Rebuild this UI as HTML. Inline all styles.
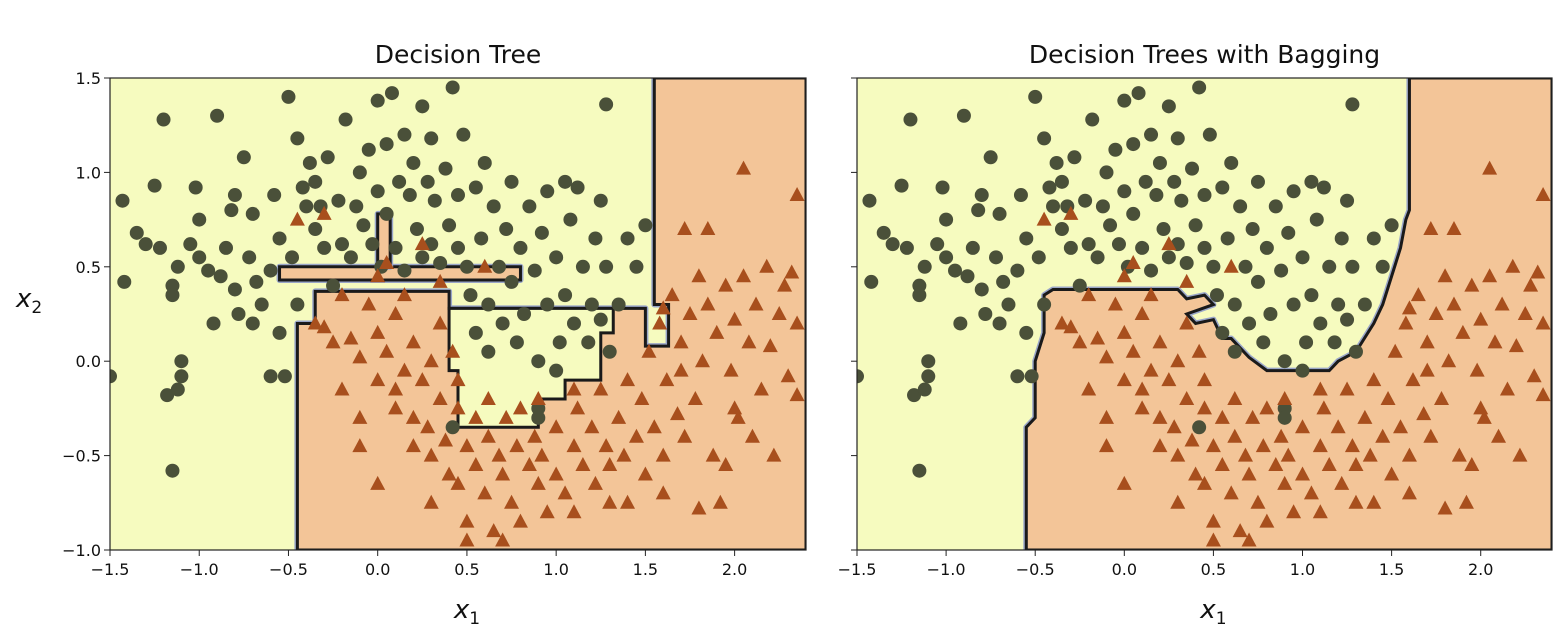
<!DOCTYPE html>
<html><head><meta charset="utf-8"><style>
body{margin:0;background:#fff;width:1566px;height:632px;overflow:hidden}
svg{display:block}
text{font-family:"DejaVu Sans","Liberation Sans",sans-serif;fill:#111}
</style></head><body>
<svg id="chart" width="1566" height="632" xmlns="http://www.w3.org/2000/svg"></svg>
<script>
const circlesX=[-1.5,-1.42,-1.43,-1.35,-1.3,-1.25,-1.22,-1.2,-1.18,-1.15,-1.15,-1.12,-1.1,-1.12,-1.1,-1.15,-1.05,-1.02,-1.0,-1.0,-0.95,-0.92,-0.9,-0.88,-0.85,-0.82,-0.8,-0.8,-0.78,-0.75,-0.72,-0.7,-0.7,-0.68,-0.65,-0.6,-0.58,-0.55,-0.55,-0.52,-0.6,-0.5,-0.48,-0.45,-0.45,-0.42,-0.4,-0.38,-0.35,-0.35,-0.32,-0.3,-0.28,-0.25,-0.22,-0.2,-0.18,-0.15,-0.12,-0.1,-0.08,-0.05,-0.03,0.0,0.0,0.02,0.05,0.05,0.08,0.1,0.12,0.15,0.15,0.18,0.2,0.22,0.25,0.25,0.28,0.3,0.3,0.32,0.35,0.38,0.4,0.42,0.45,0.45,0.48,0.5,0.52,0.55,0.55,0.58,0.6,0.62,0.62,0.65,0.68,0.7,0.72,0.75,0.75,0.78,0.8,0.82,0.85,0.88,0.9,0.92,0.95,0.95,1.0,1.0,1.02,1.05,1.05,1.08,1.1,1.12,1.15,1.18,1.2,1.22,1.25,1.25,1.28,1.3,1.35,1.4,1.45,1.5,1.28,0.9,0.9,0.42];
const circlesY=[-0.08,0.42,0.85,0.68,0.62,0.93,0.6,1.28,-0.18,0.4,0.35,0.5,0.0,-0.15,-0.08,-0.58,0.62,0.92,0.75,0.55,0.48,0.2,1.3,0.45,0.6,0.8,0.88,0.38,0.25,1.08,0.55,0.2,0.78,0.42,0.3,0.48,0.88,0.65,0.15,-0.08,-0.08,1.4,0.55,0.3,1.18,0.92,0.82,1.05,0.7,0.95,0.82,0.6,1.08,0.4,0.85,0.62,1.28,0.55,0.82,1.0,0.72,1.12,0.62,0.9,1.38,0.5,1.15,0.78,1.42,0.6,0.95,1.2,0.48,0.88,1.05,0.7,1.35,0.55,0.95,0.62,1.18,0.85,0.52,1.02,0.72,1.45,0.6,0.88,1.2,0.5,0.35,0.92,0.15,0.65,1.05,0.3,0.05,0.82,0.5,0.2,0.7,0.95,0.42,0.1,0.6,0.25,0.82,0.48,0.0,0.68,0.9,0.3,-0.05,0.55,0.1,0.95,0.35,0.75,0.2,0.92,0.5,0.1,0.3,0.65,0.85,0.22,0.5,0.05,0.3,0.65,0.5,0.72,1.36,-0.25,-0.3,-0.35];
const triX=[-0.45,-0.35,-0.3,-0.25,-0.3,-0.2,-0.15,-0.1,-0.1,-0.05,0.0,0.0,0.05,0.05,0.1,0.1,0.15,0.15,0.2,0.2,0.25,0.25,0.28,0.3,0.3,0.35,0.35,0.38,0.4,0.42,0.45,0.45,0.5,0.5,0.55,0.55,0.6,0.62,0.65,0.68,0.7,0.72,0.75,0.78,0.8,0.85,0.88,0.9,0.92,0.95,1.0,1.0,1.05,1.1,1.12,1.15,1.2,1.22,1.25,1.28,1.3,1.35,1.38,1.4,1.45,1.48,1.5,1.52,1.55,1.58,1.6,1.62,1.65,1.68,1.7,1.72,1.75,1.78,1.8,1.82,1.85,1.88,1.9,1.92,1.95,1.98,2.0,2.02,2.05,2.05,2.08,2.1,2.12,2.15,2.18,2.2,2.22,2.25,2.28,2.3,2.32,2.35,2.35,1.72,1.85,1.8,2.35,0.0,-0.1,0.3,0.5,0.7,1.1,1.4,0.62,0.8,0.2,0.45,1.6,1.6,1.95,1.7,0.6,0.0,0.35,-0.2,0.1,1.3,0.9,1.1,2.0];
const triY=[0.75,0.2,0.18,0.1,0.78,0.35,0.12,0.02,-0.3,0.3,0.15,-0.1,0.05,0.52,0.25,-0.15,0.35,-0.05,0.1,-0.3,0.62,-0.1,-0.35,0.0,-0.5,0.2,-0.2,-0.42,-0.6,0.05,-0.25,-0.65,-0.45,-0.85,-0.3,-0.55,-0.7,-0.4,-0.9,-0.5,-0.6,-0.3,-0.75,-0.45,-0.85,-0.55,-0.4,-0.65,-0.5,-0.8,-0.35,-0.6,-0.7,-0.45,-0.25,-0.55,-0.35,-0.65,-0.15,-0.45,-0.75,-0.3,-0.5,-0.1,-0.4,-0.2,-0.6,0.05,-0.35,0.2,-0.5,-0.1,0.35,-0.28,0.1,-0.4,0.25,-0.2,0.45,0.0,0.3,-0.5,0.15,-0.75,0.4,-0.05,0.22,-0.3,1.02,0.45,0.1,-0.4,0.3,-0.15,0.5,0.08,-0.5,0.25,0.4,-0.08,0.47,0.88,0.2,0.7,0.7,-0.78,-0.18,-0.65,-0.45,-0.75,-0.95,-0.95,-0.8,-0.75,-0.2,-0.25,-0.45,-0.1,0.28,-0.7,-0.55,-0.05,0.5,0.45,0.42,-0.15,-0.25,-0.55,-0.2,-0.15,-0.25];
const xTicks=[-1.5,-1.0,-0.5,0.0,0.5,1.0,1.5,2.0];
const yTicks=[1.5,1.0,0.5,0.0,-0.5,-1.0];
const leftOrange=[[-0.45,-1],[-0.45,0.2],[-0.35,0.2],[-0.35,0.37],[0.4,0.37],[0.4,0.28],[1.5,0.28],[1.5,0.08],[1.63,0.08],[1.63,0.3],[1.55,0.3],[1.55,1.5],[2.4,1.5],[2.4,-1]];
const leftPocket=[[0.4,0.28],[0.4,-0.05],[0.45,-0.05],[0.45,-0.35],[0.9,-0.35],[0.9,-0.2],[1.05,-0.2],[1.05,-0.1],[1.25,-0.1],[1.25,0.15],[1.32,0.15],[1.32,0.28]];
const leftStrip=[[-0.55,0.43],[0.8,0.43],[0.8,0.5],[-0.55,0.5]];
const leftStrip2=[[0.0,0.5],[0.07,0.5],[0.07,0.78],[0.0,0.78]];
const leftStrip3=[[0.55,-0.05],[0.62,-0.05],[0.62,0.3],[0.55,0.3]];
const rightOrange=[[-0.55,-1],[-0.55,-0.35],[-0.5,-0.3],[-0.5,0.0],[-0.45,0.15],[-0.45,0.35],[-0.4,0.38],[0.3,0.38],[0.35,0.33],[0.45,0.35],[0.5,0.3],[0.35,0.25],[0.4,0.2],[0.5,0.22],[0.55,0.12],[0.6,0.12],[0.7,0.02],[0.8,-0.05],[1.15,-0.05],[1.2,0.0],[1.3,0.05],[1.4,0.2],[1.45,0.3],[1.5,0.45],[1.55,0.6],[1.58,0.75],[1.6,0.8],[1.6,1.5],[2.4,1.5],[2.4,-1]];

const NS='http://www.w3.org/2000/svg';
const svg=document.getElementById('chart');
function mk(tag,attrs,parent){const e=document.createElementNS(NS,tag);for(const k in attrs)e.setAttribute(k,attrs[k]);(parent||svg).appendChild(e);return e;}
const YT=78,YB=550;
function panel(x0,x1,title,polys,pocket,idx,showY){
  const sx=v=>x0+(v+1.5)/3.9*(x1-x0);
  const sy=v=>YT+(1.5-v)/2.5*(YB-YT);
  const g=mk('g',{});
  
  
  const cp=mk('clipPath',{id:'clip'+idx},g);mk('rect',{x:x0,y:YT,width:x1-x0,height:YB-YT},cp);
  const bg=mk('rect',{x:x0,y:YT,width:x1-x0,height:YB-YT,fill:'#f6fbbf'},g);
  
  
  const pts=p=>p.map(q=>sx(q[0])+','+sy(q[1])).join(' ');
  const cg=mk('g',{'clip-path':'url(#clip'+idx+')'},g);
  polys.forEach(p=>{
    mk('polygon',{points:pts(p),fill:'none',stroke:'#9aa6c8',"stroke-width":6,"stroke-linejoin":"round"},cg);
    const o=mk('polygon',{points:pts(p),fill:'#f3c598',stroke:'#1a1a1a',"stroke-width":3},cg);
    
    
  });
  pocket.forEach(p=>{
    const o=mk('polygon',{points:pts(p),fill:'#f6fbbf',stroke:'#1a1a1a',"stroke-width":3},cg);
    
    
  });
  circlesX.forEach((v,i)=>{
    const c=mk('circle',{cx:sx(v),cy:sy(circlesY[i]),r:7,fill:'#4a5039'},cg);
    
    
  });
  triX.forEach((v,i)=>{
    const x=sx(v),y=sy(triY[i]);
    const t=mk('polygon',{points:`${x},${y-8} ${x-7.5},${y+6} ${x+7.5},${y+6}`,fill:'#a84f1d'},cg);
    
    
  });
  mk('rect',{x:x0,y:YT,width:x1-x0,height:YB-YT,fill:'none',stroke:'#222','stroke-width':1.2},g);
  xTicks.forEach(v=>{
    mk('line',{x1:sx(v),x2:sx(v),y1:YB,y2:YB+6,stroke:'#222'},g);
    const t=mk('text',{x:sx(v),y:YB+25,'text-anchor':'middle','font-size':16},g);
    t.textContent=v<0?'\u2212'+Math.abs(v).toFixed(1):v.toFixed(1);
    
    
  });
  yTicks.forEach(v=>{
    mk('line',{x1:x0-6,x2:x0,y1:sy(v),y2:sy(v),stroke:'#222'},g);
    if(showY){const t=mk('text',{x:x0-9,y:sy(v)+6,'text-anchor':'end','font-size':16},g);
    t.textContent=v<0?'\u2212'+Math.abs(v).toFixed(1):v.toFixed(1);
    
    }
  });
  const ti=mk('text',{x:(x0+x1)/2,y:63,'text-anchor':'middle','font-size':25},g);ti.textContent=title;
  
  
  const xl=mk('text',{x:sx(0.5),y:618,'text-anchor':'middle','font-size':26,'font-style':'italic'},g);
  xl.innerHTML='x<tspan font-size="17" dy="6" font-style="normal">1</tspan>';
  
  
  if(showY){const yl=mk('text',{x:16,y:307,'font-size':26,'font-style':'italic'},g);
  yl.innerHTML='x<tspan font-size="17" dy="6" font-style="normal">2</tspan>';
  
  }
}
panel(110,806,'Decision Tree',[leftOrange,leftStrip,leftStrip2],[leftPocket],0,true);
panel(857,1552,'Decision Trees with Bagging',[rightOrange],[],1,false);
</script>
</body></html>
